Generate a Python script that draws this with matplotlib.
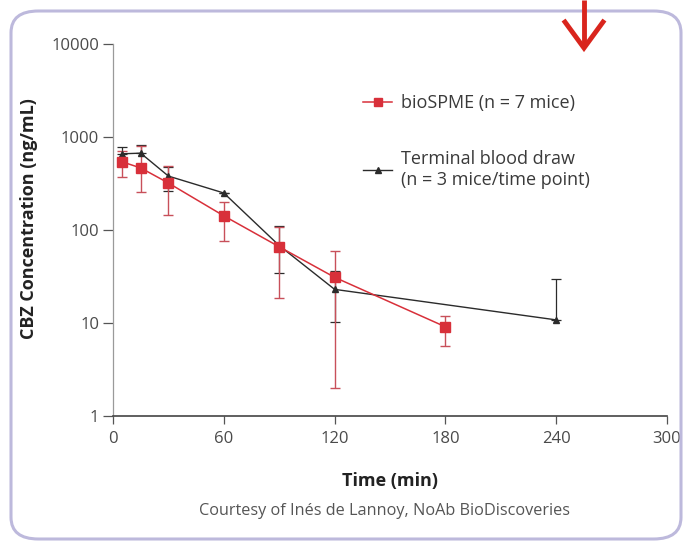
import numpy as np
import matplotlib
matplotlib.use("Agg")
import matplotlib.pyplot as plt
from matplotlib.patches import FancyBboxPatch
from matplotlib.lines import Line2D

plt.rcParams['font.family'] = ['Open Sans', 'DejaVu Sans']

# bioSPME (red squares)
spme_t = [5, 15, 30, 60, 90, 120, 180]
spme_y = [540, 465, 320, 142, 66, 31, 9.1]
spme_lo = [372, 256, 145, 76, 18.6, 2.0, 5.7]
spme_hi = [700, 800, 490, 200, 108, 59, 11.9]

# terminal blood draw (black triangles)
blood_t = [5, 15, 30, 60, 90, 120, 240]
blood_y = [660, 670, 380, 250, 68, 23, 10.8]
blood_lo = [660, 670, 262, 250, 34.5, 10.2, 10.8]
blood_hi = [783, 815, 480, 250, 110, 36, 30]

x_ticks = [0, 60, 120, 180, 240, 300]
y_ticks = [1, 10, 100, 1000, 10000]

red = '#d8303a'
red_err = '#c8505a'
dark = '#2b2b2b'

fig = plt.figure(figsize=(6.85, 5.44), dpi=100)

# rounded frame round the figure
frame = FancyBboxPatch((11 / 685, 5 / 544), 670 / 685, 528 / 544,
                       boxstyle="round,pad=0,rounding_size=0.04",
                       transform=fig.transFigure, fill=False,
                       edgecolor='#bdb9dc', linewidth=2.2)
fig.patches.append(frame)

ax = fig.add_axes([113 / 685, 128 / 544, 554 / 685, 372 / 544])

# error bars
s_y = np.array(spme_y)
s_err = [s_y - np.array(spme_lo), np.array(spme_hi) - s_y]
b_y = np.array(blood_y)
b_err = [b_y - np.array(blood_lo), np.array(blood_hi) - b_y]

ax.errorbar(blood_t, blood_y, yerr=b_err, fmt='none', ecolor=dark,
            elinewidth=0.9, capsize=3.5, capthick=0.9, zorder=2)
ax.errorbar(spme_t, spme_y, yerr=s_err, fmt='none', ecolor=red_err,
            elinewidth=1.0, capsize=3.5, capthick=1.0, zorder=3)

ax.plot(blood_t, blood_y, color=dark, linewidth=1.0, marker='^',
        markersize=5, zorder=4)
ax.plot(spme_t, spme_y, color=red, linewidth=1.1, marker='s',
        markersize=6.5, zorder=5)

ax.set_yscale('log')
ax.set_xlim(0, 300)
ax.set_ylim(1, 10000)
ax.set_xticks(x_ticks)
ax.set_xticklabels([str(v) for v in x_ticks])
ax.set_yticks(y_ticks)
ax.set_yticklabels([str(v) for v in y_ticks])
ax.minorticks_off()

for side in ['top', 'right']:
    ax.spines[side].set_visible(False)
ax.spines['left'].set_color('#9a9a9a')
ax.spines['left'].set_linewidth(0.9)
ax.spines['bottom'].set_color('#444444')
ax.spines['bottom'].set_linewidth(1.2)
ax.tick_params(axis='y', length=7, width=0.9, color='#555555',
               labelsize=12, labelcolor='#4a4a4a', pad=3)
ax.tick_params(axis='x', length=6, width=0.9, color='#555555',
               labelsize=12, labelcolor='#4a4a4a', pad=5, direction='out')

ax.set_xlabel("Time (min)", fontsize=13, fontweight='bold',
              color='#222222', labelpad=18)
ax.set_ylabel("CBZ Concentration (ng/mL)", fontsize=13, fontweight='bold',
              color='#222222')
ax.yaxis.set_label_coords(-0.135, 0.532)

# legend
handles = [
    Line2D([], [], color=red, marker='s', markersize=6, linewidth=1.1),
    Line2D([], [], color=dark, marker='^', markersize=4.5, linewidth=1.0),
]
labels = ["bioSPME (n = 7 mice)",
          "Terminal blood draw\n(n = 3 mice/time point)"]
leg = fig.legend(handles, labels, loc='upper left',
                 bbox_to_anchor=(347 / 685, 1 - 78 / 544),
                 frameon=False, fontsize=13, handlelength=1.6,
                 labelspacing=2.1, handletextpad=0.5)
for t in leg.get_texts():
    t.set_color('#3a3a3a')

fig.text(384 / 685, 1 - 511 / 544,
         "Courtesy of Inés de Lannoy, NoAb BioDiscoveries",
         ha='center', va='center', fontsize=11.7, color='#555555')

# red arrow at the top
fig.add_artist(Line2D([584 / 685, 584 / 685], [1.0, 1 - 46 / 544],
                      transform=fig.transFigure, color='#d9251d',
                      linewidth=3.5, solid_capstyle='butt'))
fig.add_artist(Line2D([565 / 685, 584 / 685, 603 / 685],
                      [1 - 22 / 544, 1 - 48 / 544, 1 - 22 / 544],
                      transform=fig.transFigure, color='#d9251d',
                      linewidth=3.5, solid_joinstyle='miter'))

fig.savefig("out.png", dpi=100)
